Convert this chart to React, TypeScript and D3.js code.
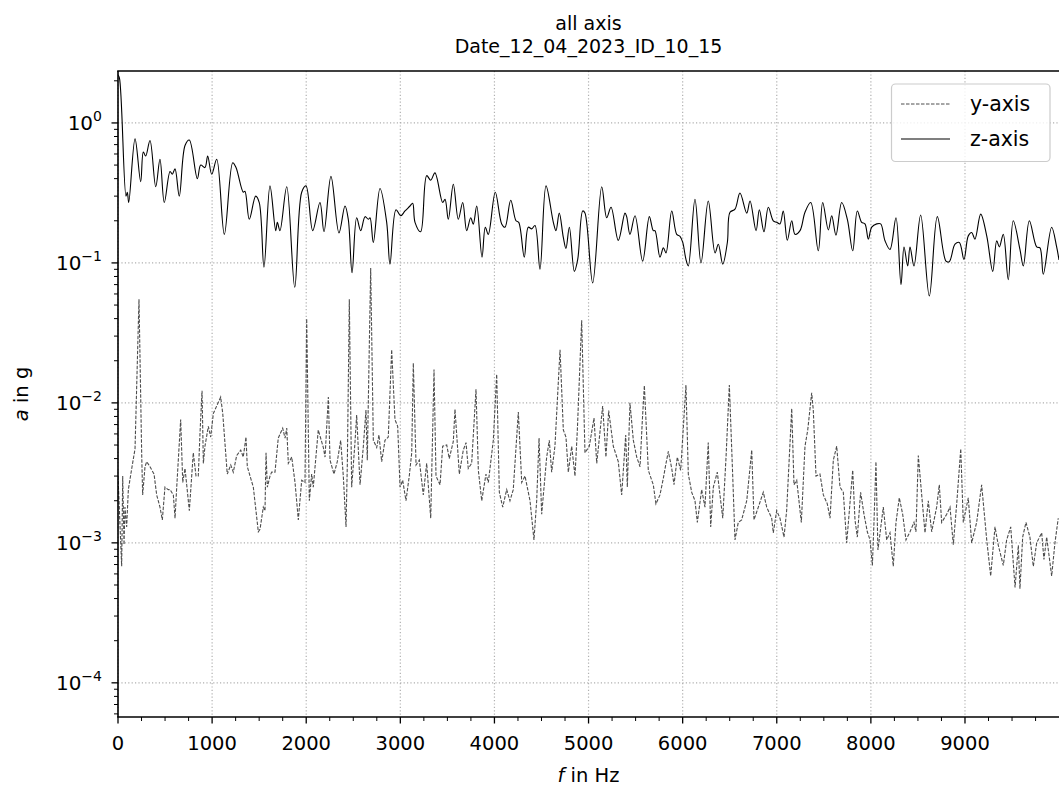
import React from 'react';
import * as d3 from 'd3';

const titleLines = ['all axis', 'Date_12_04_2023_ID_10_15'];
const xTickValues = [0, 1000, 2000, 3000, 4000, 5000, 6000, 7000, 8000, 9000];
const yTickExponents = [0, -1, -2, -3, -4];
const legendLabels = ['y-axis', 'z-axis'];

const zFreq = [0, 15, 85, 99, 114, 181, 241, 269, 294, 340, 401, 446, 492, 553, 577, 606, 651, 712, 758, 843, 879, 924, 953, 996, 1049, 1130, 1219, 1254, 1331, 1349, 1395, 1463, 1501, 1551, 1615, 1676, 1693, 1721, 1793, 1878, 1952, 1998, 2069, 2146, 2189, 2263, 2348, 2412, 2447, 2487, 2536, 2579, 2625, 2660, 2678, 2713, 2784, 2855, 2890, 2954, 3004, 3050, 3103, 3131, 3156, 3216, 3280, 3323, 3368, 3450, 3475, 3510, 3563, 3616, 3663, 3705, 3748, 3775, 3812, 3868, 3903, 3935, 4009, 4077, 4112, 4173, 4229, 4258, 4317, 4360, 4396, 4431, 4484, 4548, 4626, 4654, 4689, 4732, 4760, 4796, 4849, 4885, 4938, 4962, 5044, 5140, 5193, 5239, 5316, 5387, 5405, 5440, 5494, 5575, 5646, 5688, 5706, 5759, 5795, 5823, 5884, 5937, 5972, 6001, 6035, 6060, 6131, 6195, 6272, 6344, 6379, 6426, 6475, 6503, 6556, 6609, 6681, 6716, 6780, 6815, 6864, 6910, 6963, 6999, 7034, 7069, 7112, 7159, 7194, 7247, 7300, 7361, 7441, 7488, 7548, 7584, 7629, 7690, 7750, 7807, 7856, 7902, 7937, 7973, 8009, 8062, 8104, 8150, 8203, 8267, 8320, 8352, 8391, 8416, 8458, 8529, 8621, 8706, 8798, 8833, 8894, 8940, 8989, 9035, 9071, 9106, 9167, 9231, 9295, 9337, 9365, 9407, 9460, 9513, 9584, 9620, 9684, 9762, 9797, 9832, 9921, 9974, 9999];
const zVals = [2.2, 2.1, 0.30, 0.32, 0.27, 0.77, 0.38, 0.62, 0.58, 0.75, 0.35, 0.55, 0.27, 0.45, 0.43, 0.47, 0.30, 0.69, 0.755, 0.40, 0.50, 0.48, 0.58, 0.43, 0.55, 0.16, 0.52, 0.48, 0.32, 0.325, 0.205, 0.30, 0.27, 0.093, 0.355, 0.17, 0.195, 0.17, 0.35, 0.067, 0.32, 0.355, 0.17, 0.27, 0.167, 0.415, 0.164, 0.255, 0.205, 0.085, 0.21, 0.17, 0.214, 0.205, 0.21, 0.14, 0.34, 0.195, 0.098, 0.24, 0.217, 0.235, 0.255, 0.267, 0.195, 0.167, 0.42, 0.39, 0.44, 0.27, 0.285, 0.205, 0.365, 0.205, 0.27, 0.17, 0.21, 0.189, 0.255, 0.11, 0.18, 0.16, 0.32, 0.19, 0.18, 0.28, 0.2, 0.195, 0.11, 0.18, 0.175, 0.185, 0.09, 0.355, 0.195, 0.17, 0.227, 0.152, 0.127, 0.18, 0.087, 0.106, 0.235, 0.227, 0.072, 0.35, 0.21, 0.25, 0.145, 0.227, 0.214, 0.16, 0.217, 0.103, 0.214, 0.17, 0.17, 0.11, 0.128, 0.118, 0.235, 0.16, 0.155, 0.14, 0.106, 0.095, 0.285, 0.1, 0.277, 0.118, 0.136, 0.098, 0.14, 0.23, 0.242, 0.316, 0.227, 0.277, 0.17, 0.24, 0.167, 0.25, 0.2, 0.195, 0.19, 0.235, 0.145, 0.2, 0.16, 0.17, 0.23, 0.27, 0.122, 0.27, 0.172, 0.217, 0.158, 0.27, 0.205, 0.122, 0.235, 0.195, 0.19, 0.148, 0.18, 0.19, 0.19, 0.144, 0.125, 0.21, 0.07, 0.13, 0.095, 0.13, 0.095, 0.22, 0.058, 0.214, 0.103, 0.102, 0.136, 0.14, 0.106, 0.156, 0.165, 0.148, 0.223, 0.156, 0.087, 0.144, 0.13, 0.16, 0.076, 0.2, 0.125, 0.095, 0.2, 0.13, 0.128, 0.083, 0.18, 0.13, 0.105];

const yFreq = [0, 39, 50, 64, 74, 92, 110, 146, 181, 223, 252, 262, 287, 305, 340, 383, 411, 446, 471, 499, 534, 553, 588, 606, 624, 666, 688, 712, 730, 758, 800, 829, 853, 871, 893, 907, 924, 960, 985, 1013, 1091, 1113, 1161, 1198, 1225, 1261, 1304, 1331, 1360, 1374, 1438, 1491, 1509, 1544, 1562, 1573, 1587, 1615, 1633, 1668, 1703, 1750, 1775, 1793, 1810, 1846, 1881, 1916, 1952, 1987, 2005, 2033, 2058, 2075, 2128, 2182, 2200, 2235, 2253, 2295, 2330, 2366, 2394, 2423, 2437, 2458, 2483, 2518, 2536, 2572, 2607, 2635, 2649, 2685, 2713, 2749, 2773, 2802, 2837, 2872, 2908, 2943, 2972, 2997, 3025, 3060, 3095, 3121, 3138, 3167, 3202, 3244, 3280, 3323, 3358, 3379, 3422, 3450, 3493, 3520, 3563, 3581, 3627, 3669, 3698, 3722, 3758, 3804, 3829, 3865, 3910, 3935, 3988, 4024, 4052, 4088, 4130, 4165, 4200, 4254, 4290, 4325, 4378, 4420, 4449, 4474, 4502, 4555, 4583, 4608, 4643, 4697, 4732, 4760, 4785, 4821, 4856, 4881, 4927, 4962, 5008, 5058, 5087, 5150, 5185, 5214, 5263, 5316, 5352, 5395, 5412, 5440, 5476, 5512, 5547, 5572, 5593, 5635, 5688, 5716, 5759, 5795, 5823, 5848, 5884, 5908, 5943, 5979, 6035, 6060, 6096, 6131, 6156, 6202, 6237, 6272, 6298, 6326, 6368, 6426, 6461, 6496, 6532, 6556, 6591, 6627, 6681, 6734, 6758, 6804, 6857, 6893, 6946, 6963, 6999, 7034, 7077, 7105, 7159, 7183, 7212, 7261, 7300, 7329, 7371, 7388, 7417, 7459, 7495, 7537, 7566, 7601, 7637, 7672, 7707, 7743, 7807, 7831, 7856, 7891, 7927, 7962, 7991, 8016, 8033, 8054, 8075, 8132, 8168, 8203, 8238, 8267, 8302, 8338, 8373, 8416, 8458, 8479, 8504, 8540, 8575, 8610, 8646, 8699, 8727, 8752, 8806, 8841, 8876, 8912, 8955, 8982, 9035, 9071, 9124, 9177, 9231, 9273, 9319, 9354, 9407, 9443, 9486, 9532, 9567, 9584, 9613, 9648, 9690, 9726, 9762, 9815, 9839, 9868, 9921, 9956, 9991];
const yVals = [0.0030, 0.00068, 0.0030, 0.00097, 0.0018, 0.0013, 0.0024, 0.0034, 0.0047, 0.055, 0.0042, 0.0022, 0.0035, 0.0038, 0.0035, 0.0031, 0.0022, 0.0018, 0.00146, 0.0025, 0.0024, 0.0024, 0.0022, 0.0015, 0.0025, 0.0076, 0.0027, 0.0034, 0.0026, 0.0017, 0.0044, 0.0030, 0.0030, 0.0060, 0.0122, 0.0037, 0.0049, 0.0068, 0.0057, 0.0084, 0.011, 0.0084, 0.0031, 0.0036, 0.0032, 0.0042, 0.0046, 0.0041, 0.0057, 0.0035, 0.0025, 0.0012, 0.00125, 0.0018, 0.0017, 0.0044, 0.0025, 0.0030, 0.0032, 0.0032, 0.0056, 0.0066, 0.0056, 0.0066, 0.0037, 0.0041, 0.0027, 0.00146, 0.0028, 0.0027, 0.040, 0.0020, 0.0031, 0.0025, 0.0064, 0.0048, 0.0041, 0.011, 0.0039, 0.0031, 0.0038, 0.0054, 0.0030, 0.0013, 0.0037, 0.055, 0.0025, 0.0052, 0.0082, 0.0026, 0.0049, 0.0089, 0.0039, 0.092, 0.0054, 0.0048, 0.0059, 0.0038, 0.0054, 0.0057, 0.024, 0.0076, 0.0068, 0.0025, 0.0028, 0.0020, 0.0030, 0.0044, 0.0193, 0.0036, 0.0039, 0.0022, 0.0037, 0.0015, 0.0173, 0.0030, 0.0026, 0.0049, 0.0050, 0.0040, 0.0053, 0.0090, 0.0031, 0.0046, 0.0052, 0.0034, 0.0037, 0.0125, 0.0033, 0.0020, 0.0031, 0.0027, 0.0054, 0.016, 0.0023, 0.0018, 0.0024, 0.0020, 0.0024, 0.0086, 0.0027, 0.0030, 0.0020, 0.00105, 0.0020, 0.0056, 0.0016, 0.0041, 0.0054, 0.0032, 0.0049, 0.024, 0.0064, 0.0057, 0.0032, 0.0049, 0.0030, 0.0064, 0.039, 0.0044, 0.0049, 0.0078, 0.0037, 0.0095, 0.0041, 0.0088, 0.0049, 0.0038, 0.0022, 0.0059, 0.0025, 0.010, 0.0054, 0.0041, 0.0035, 0.0076, 0.0133, 0.0033, 0.0026, 0.0019, 0.0022, 0.0029, 0.0037, 0.0045, 0.0034, 0.0026, 0.0041, 0.0033, 0.0134, 0.0031, 0.0023, 0.0020, 0.0014, 0.0024, 0.0018, 0.0052, 0.0013, 0.0025, 0.0032, 0.0015, 0.0041, 0.0134, 0.0030, 0.00105, 0.0014, 0.00146, 0.0020, 0.0046, 0.00146, 0.0018, 0.0023, 0.0018, 0.0015, 0.00118, 0.0017, 0.0015, 0.0011, 0.0017, 0.0091, 0.0026, 0.0028, 0.0014, 0.0049, 0.0064, 0.0118, 0.0089, 0.0030, 0.0031, 0.0022, 0.0019, 0.0015, 0.0039, 0.0049, 0.0025, 0.0023, 0.0010, 0.0033, 0.00146, 0.0011, 0.0023, 0.0016, 0.0012, 0.00105, 0.00069, 0.0014, 0.0038, 0.00089, 0.0018, 0.00105, 0.00118, 0.00068, 0.0014, 0.0021, 0.0016, 0.00105, 0.0012, 0.0014, 0.0012, 0.0042, 0.0022, 0.00118, 0.0020, 0.0012, 0.0018, 0.0026, 0.0014, 0.0016, 0.0018, 0.00097, 0.0019, 0.0047, 0.0014, 0.0021, 0.0010, 0.0014, 0.0026, 0.00105, 0.00058, 0.0013, 0.00096, 0.00069, 0.00105, 0.0013, 0.00048, 0.00096, 0.00047, 0.0011, 0.0014, 0.0011, 0.00068, 0.0010, 0.00118, 0.00076, 0.0011, 0.00058, 0.0010, 0.0015];

const FONT = 'DejaVu Sans, Verdana, sans-serif';

export default function App() {
  const left = 118, right = 1059, top = 71, bottom = 717;
  const x = d3.scaleLinear().domain([0, 9999]).range([left, right]);
  const y = d3.scaleLog().domain([5.7e-5, 2.35]).range([bottom, top]);

  const zData = zFreq.map((f, i) => [f, zVals[i]] as [number, number]);
  const yData = yFreq.map((f, i) => [f, yVals[i]] as [number, number]);

  const zLine = d3.line<[number, number]>()
    .x(d => x(d[0])).y(d => y(d[1]))
    .curve(d3.curveCatmullRom.alpha(0.5));
  const yLine = d3.line<[number, number]>()
    .x(d => x(d[0])).y(d => y(d[1]));

  const minorX = d3.range(0, 10000, 250).filter(v => v % 1000 !== 0);
  const majorY = yTickExponents.map(e => Math.pow(10, e));
  const minorY: number[] = [];
  for (let e = -5; e <= 0; e++) {
    for (let k = 2; k <= 9; k++) {
      const v = k * Math.pow(10, e);
      if (v >= 5.7e-5 && v <= 2.35) minorY.push(v);
    }
  }

  const gridStyle = { stroke: '#b0b0b0', strokeWidth: 1.2, strokeDasharray: '1.2,2.2' };

  return (
    <svg width={1059} height={790} style={{ position: 'absolute', left: 0, top: 0, background: '#fff' }} fontFamily={FONT}>
      <defs>
        <clipPath id="plotclip">
          <rect x={left} y={top} width={right - left} height={bottom - top} />
        </clipPath>
      </defs>
      <rect x={0} y={0} width={1059} height={790} fill="#fff" />
      {xTickValues.map(v => (
        <line key={'gx' + v} x1={x(v)} x2={x(v)} y1={top} y2={bottom} {...gridStyle} />
      ))}
      {majorY.map(v => (
        <line key={'gy' + v} x1={left} x2={right} y1={y(v)} y2={y(v)} {...gridStyle} />
      ))}
      <g clipPath="url(#plotclip)">
        <path d={yLine(yData) || ''} fill="none" stroke="#4d4d4d" strokeWidth={1.1} strokeDasharray="3.5,1.5" />
        <path d={zLine(zData) || ''} fill="none" stroke="#000" strokeWidth={1.1} />
      </g>
      <line x1={left} x2={left} y1={top} y2={bottom} stroke="#000" strokeWidth={1.6} />
      <line x1={left - 0.8} x2={right + 2} y1={top} y2={top} stroke="#000" strokeWidth={1.6} />
      <line x1={left - 0.8} x2={right + 2} y1={bottom} y2={bottom} stroke="#000" strokeWidth={1.6} />
      {xTickValues.map(v => (
        <g key={'xt' + v}>
          <line x1={x(v)} x2={x(v)} y1={bottom} y2={bottom + 6.5} stroke="#000" strokeWidth={1.3} />
          <text x={x(v)} y={bottom + 33} textAnchor="middle" fontSize={19.5}>{v}</text>
        </g>
      ))}
      {minorX.map(v => (
        <line key={'xm' + v} x1={x(v)} x2={x(v)} y1={bottom} y2={bottom + 4} stroke="#000" strokeWidth={1} />
      ))}
      {yTickExponents.map(e => {
        const v = Math.pow(10, e);
        const sup = e < 0 ? '\u2212' + Math.abs(e) : String(e);
        return (
          <g key={'yt' + e}>
            <line x1={left - 6.5} x2={left} y1={y(v)} y2={y(v)} stroke="#000" strokeWidth={1.3} />
            <text x={left - 16} y={y(v) + 7} textAnchor="end" fontSize={20}>
              10<tspan dy={-9} fontSize={14}>{sup}</tspan>
            </text>
          </g>
        );
      })}
      {minorY.map(v => (
        <line key={'ym' + v} x1={left - 4} x2={left} y1={y(v)} y2={y(v)} stroke="#000" strokeWidth={1} />
      ))}
      <text x={(left + right) / 2} y={30} textAnchor="middle" fontSize={19}>{titleLines[0]}</text>
      <text x={(left + right) / 2} y={53} textAnchor="middle" fontSize={19}>{titleLines[1]}</text>
      <text x={(left + right) / 2} y={782} textAnchor="middle" fontSize={19.5}>
        <tspan fontStyle="italic">f</tspan> in Hz
      </text>
      <text transform={`translate(28,${(top + bottom) / 2}) rotate(-90)`} textAnchor="middle" fontSize={19.5}>
        <tspan fontStyle="italic">a</tspan> in g
      </text>
      <g>
        <rect x={891.5} y={84} width={158.5} height={77.5} rx={4} fill="#fff" fillOpacity={0.8} stroke="#cccccc" strokeWidth={1.2} />
        <line x1={901} x2={950} y1={104} y2={104} stroke="#4d4d4d" strokeWidth={1} strokeDasharray="3.5,1.5" />
        <text x={970} y={111} fontSize={20.5}>{legendLabels[0]}</text>
        <line x1={901} x2={950} y1={139} y2={139} stroke="#000" strokeWidth={1.1} />
        <text x={970} y={146} fontSize={20.5}>{legendLabels[1]}</text>
      </g>
    </svg>
  );
}
